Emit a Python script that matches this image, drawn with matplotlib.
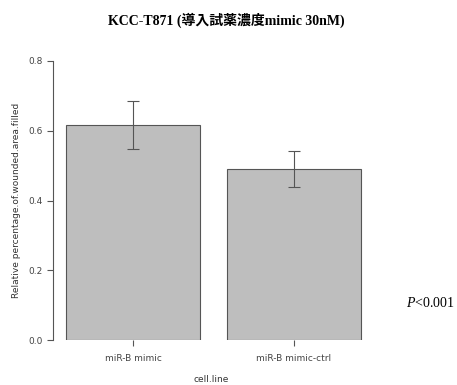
import matplotlib
matplotlib.use("Agg")
import matplotlib.pyplot as plt

plt.rcParams["mathtext.fontset"] = "custom"
plt.rcParams["mathtext.rm"] = "Liberation Serif"
plt.rcParams["mathtext.it"] = "Liberation Serif:italic"

categories = ["miR-B mimic", "miR-B mimic-ctrl"]
values = [0.617, 0.490]
errors = [0.068, 0.051]
yticks = [0.0, 0.2, 0.4, 0.6, 0.8]

fig = plt.figure(figsize=(4.57, 3.85), dpi=100)
ax = fig.add_axes([53/457, 45/385, 317/457, 279/385])

x = list(range(len(categories)))
ax.bar(x, values, width=0.832, color="#bebebe", edgecolor="#555555", linewidth=0.8)
ax.errorbar(x, values, yerr=errors, fmt="none", ecolor="#555555", elinewidth=0.8,
            capsize=4.3, capthick=0.8)

ax.set_xlim(-0.497, 1.472)
ax.set_ylim(0, 0.8)
ax.set_yticks(yticks)
ax.set_yticklabels([f"{v:.1f}" for v in yticks])
ax.set_xticks(x)
ax.set_xticklabels(categories)

for s in ["top", "right", "bottom"]:
    ax.spines[s].set_visible(False)
ax.spines["left"].set_color("#555555")
ax.spines["left"].set_linewidth(0.8)
ax.tick_params(axis="both", colors="#555555", labelcolor="#444444", labelsize=6.5,
               length=4, width=0.8)
ax.tick_params(axis="x", pad=6)

ax.set_ylabel("Relative percentage.of.wounded.area.filled", fontsize=6.5, color="#333333",
              labelpad=5)
ax.set_xlabel("cell.line", fontsize=6.5, color="#333333", labelpad=9)

fig.text(0.495, 1 - 20/385, "KCC-T871 (導入試薬濃度mimic 30nM)", ha="center", va="center",
         fontsize=10, fontweight="bold",
         family=["Liberation Serif", "Noto Sans CJK JP"])

fig.text(406/457, 1 - 303/385, r"$\mathit{P}$<0.001", ha="left", va="center",
         fontsize=10, family=["Liberation Serif"])

fig.savefig("out.png", dpi=100)
